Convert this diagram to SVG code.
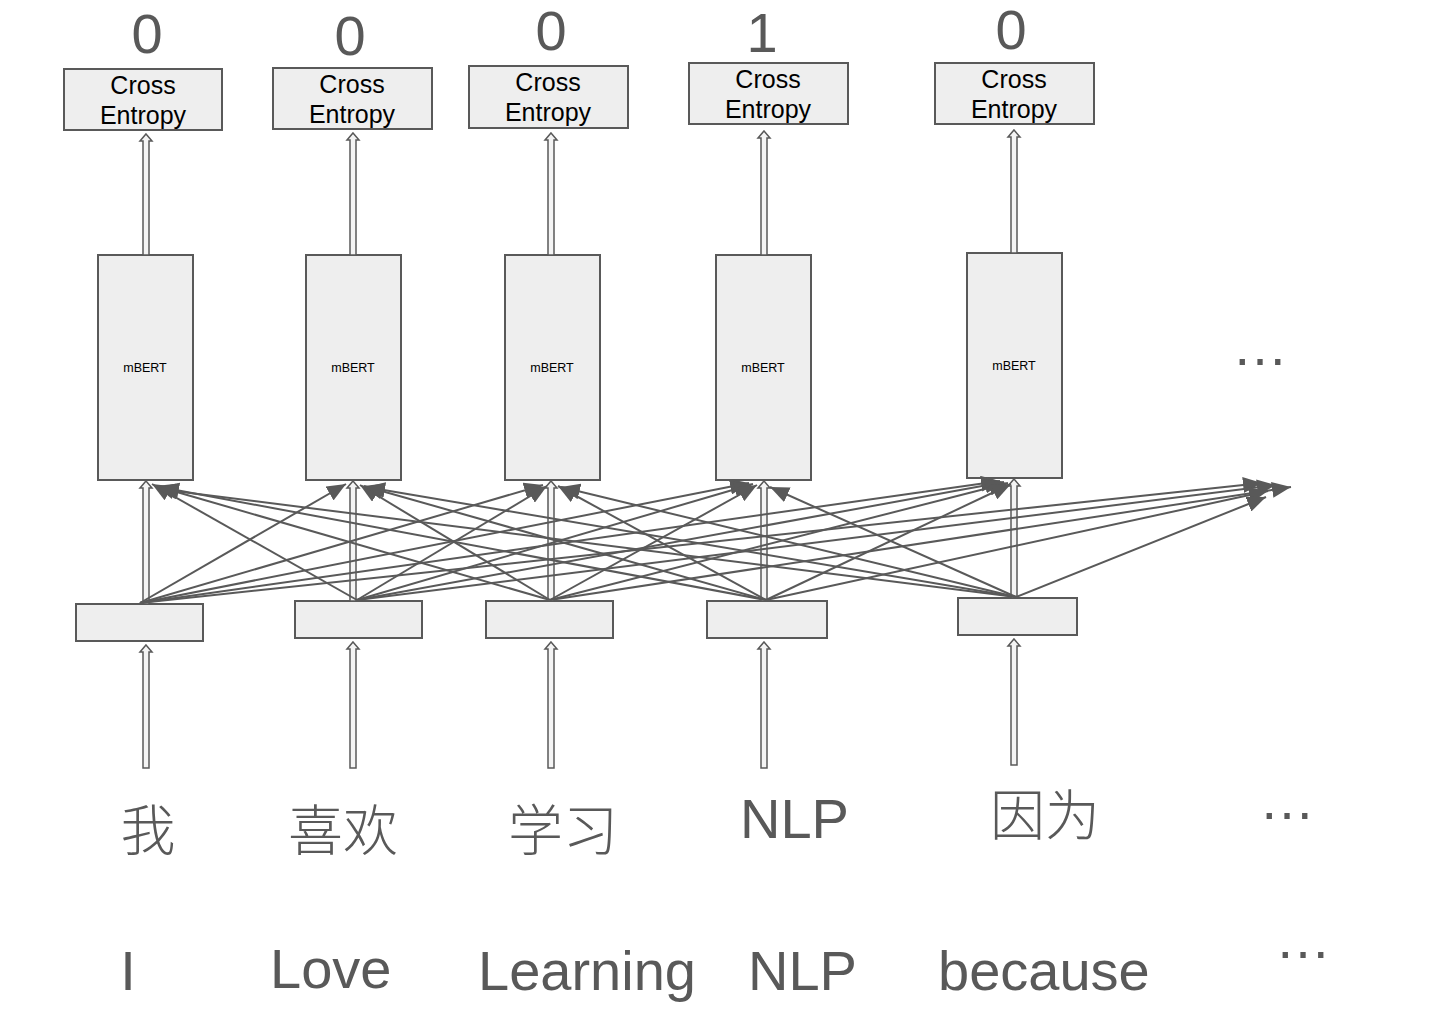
<svg xmlns="http://www.w3.org/2000/svg" width="1430" height="1022" viewBox="0 0 1430 1022">
<style>
.box{fill:#eeeeee;stroke:#595959;stroke-width:2}
.ce{font-family:"Liberation Sans",Arial,sans-serif;font-size:25px;fill:#000;text-anchor:middle}
.mb{font-family:"Liberation Sans",Arial,sans-serif;font-size:12.5px;fill:#000;text-anchor:middle}
.num{font-family:"Liberation Sans",Arial,sans-serif;font-size:56px;fill:#595959;text-anchor:middle}
.word{font-family:"Liberation Sans",Arial,sans-serif;font-size:56px;fill:#595959}
.zh{font-family:"Noto Sans CJK SC",sans-serif;font-size:55px;fill:#595959;text-anchor:middle;font-weight:300}
.dots{font-family:"Liberation Sans",Arial,sans-serif;font-size:56px;fill:#595959;text-anchor:middle}
.hol{fill:#f4f4f4;stroke:#595959;stroke-width:1.5;stroke-linejoin:miter}
.ln{stroke:#595959;stroke-width:2;fill:none;marker-end:url(#ah)}
</style>
<defs>
<marker id="ah" markerUnits="userSpaceOnUse" markerWidth="21" markerHeight="16" refX="19" refY="8" orient="auto">
<path d="M0,0 L19,8 L0,16 z" fill="#595959"/>
</marker>
</defs>
<rect width="1430" height="1022" fill="#ffffff"/>

<g id="labels">
<text class="num" x="147" y="53">0</text>
<text class="num" x="350" y="55">0</text>
<text class="num" x="551" y="50" font-size="55">0</text>
<text class="num" x="762" y="52">1</text>
<text class="num" x="1011" y="49" font-size="54">0</text>
</g>

<g id="ce1"><rect class="box" x="64" y="69" width="158" height="61"/><text class="ce" x="143" y="94">Cross</text><text class="ce" x="143" y="124">Entropy</text></g>
<g id="ce2"><rect class="box" x="273" y="68" width="159" height="61"/><text class="ce" x="352" y="93">Cross</text><text class="ce" x="352" y="123">Entropy</text></g>
<g id="ce3"><rect class="box" x="469" y="66" width="159" height="62"/><text class="ce" x="548" y="91">Cross</text><text class="ce" x="548" y="121">Entropy</text></g>
<g id="ce4"><rect class="box" x="689" y="63" width="159" height="61"/><text class="ce" x="768" y="88">Cross</text><text class="ce" x="768" y="118">Entropy</text></g>
<g id="ce5"><rect class="box" x="935" y="63" width="159" height="61"/><text class="ce" x="1014" y="88">Cross</text><text class="ce" x="1014" y="118">Entropy</text></g>

<g id="mbert1"><rect class="box" x="98" y="255" width="95" height="225"/><text class="mb" x="145" y="372">mBERT</text></g>
<g id="mbert2"><rect class="box" x="306" y="255" width="95" height="225"/><text class="mb" x="353" y="372">mBERT</text></g>
<g id="mbert3"><rect class="box" x="505" y="255" width="95" height="225"/><text class="mb" x="552" y="372">mBERT</text></g>
<g id="mbert4"><rect class="box" x="716" y="255" width="95" height="225"/><text class="mb" x="763" y="372">mBERT</text></g>
<g id="mbert5"><rect class="box" x="967" y="253" width="95" height="225"/><text class="mb" x="1014" y="370">mBERT</text></g>
<g id="mbert-more"><text class="dots" x="1260" y="365">…</text></g>

<g id="emb1"><rect class="box" x="76" y="604" width="127" height="37"/></g>
<g id="emb2"><rect class="box" x="295" y="601" width="127" height="37"/></g>
<g id="emb3"><rect class="box" x="486" y="601" width="127" height="37"/></g>
<g id="emb4"><rect class="box" x="707" y="601" width="120" height="37"/></g>
<g id="emb5"><rect class="box" x="958" y="598" width="119" height="37"/></g>

<g id="connectors">
<!-- mBERT to Cross Entropy -->
<polygon class="hol" points="146,134 152,141 149,141 149,255 143,255 143,141 140,141"/>
<polygon class="hol" points="353,133 359,140 356,140 356,255 350,255 350,140 347,140"/>
<polygon class="hol" points="551,133 557,140 554,140 554,255 548,255 548,140 545,140"/>
<polygon class="hol" points="764,131 770,138 767,138 767,255 761,255 761,138 758,138"/>
<polygon class="hol" points="1014,130 1020,137 1017,137 1017,253 1011,253 1011,137 1008,137"/>
<!-- embedding to mBERT -->
<polygon class="hol" points="146,481 152,488 149,488 149,604 143,604 143,488 140,488"/>
<polygon class="hol" points="353,481 359,488 356,488 356,601 350,601 350,488 347,488"/>
<polygon class="hol" points="551,481 557,488 554,488 554,601 548,601 548,488 545,488"/>
<polygon class="hol" points="764,481 770,488 767,488 767,601 761,601 761,488 758,488"/>
<polygon class="hol" points="1014,479 1020,486 1017,486 1017,598 1011,598 1011,486 1008,486"/>
<!-- words to embedding -->
<polygon class="hol" points="146,645 152,652 149,652 149,768 143,768 143,652 140,652"/>
<polygon class="hol" points="353,642 359,649 356,649 356,768 350,768 350,649 347,649"/>
<polygon class="hol" points="551,642 557,649 554,649 554,768 548,768 548,649 545,649"/>
<polygon class="hol" points="764,642 770,649 767,649 767,768 761,768 761,649 758,649"/>
<polygon class="hol" points="1014,639 1020,646 1017,646 1017,765 1011,765 1011,646 1008,646"/>
<!-- cross attention lines from emb1 -->
<line class="ln" x1="140" y1="603" x2="346" y2="484"/>
<line class="ln" x1="140" y1="603" x2="543" y2="485"/>
<line class="ln" x1="140" y1="603" x2="749" y2="483"/>
<line class="ln" x1="140" y1="603" x2="1000" y2="481"/>
<line class="ln" x1="140" y1="603" x2="1262" y2="483"/>
<!-- from emb2 -->
<line class="ln" x1="357" y1="600" x2="152" y2="484"/>
<line class="ln" x1="357" y1="600" x2="547" y2="486"/>
<line class="ln" x1="357" y1="600" x2="753" y2="484"/>
<line class="ln" x1="357" y1="600" x2="1004" y2="482"/>
<line class="ln" x1="357" y1="600" x2="1276" y2="485"/>
<!-- from emb3 -->
<line class="ln" x1="550" y1="600" x2="156" y2="486"/>
<line class="ln" x1="550" y1="600" x2="360" y2="485"/>
<line class="ln" x1="550" y1="600" x2="757" y2="485"/>
<line class="ln" x1="550" y1="600" x2="1008" y2="483"/>
<line class="ln" x1="550" y1="600" x2="1291" y2="487"/>
<!-- from emb4 -->
<line class="ln" x1="766" y1="600" x2="160" y2="487"/>
<line class="ln" x1="766" y1="600" x2="364" y2="486"/>
<line class="ln" x1="766" y1="600" x2="558" y2="486"/>
<line class="ln" x1="766" y1="600" x2="1011" y2="484"/>
<line class="ln" x1="766" y1="600" x2="1268" y2="491"/>
<!-- from emb5 -->
<line class="ln" x1="1016" y1="597" x2="158" y2="489"/>
<line class="ln" x1="1016" y1="597" x2="366" y2="487"/>
<line class="ln" x1="1016" y1="597" x2="561" y2="487"/>
<line class="ln" x1="1016" y1="597" x2="770" y2="487"/>
<line class="ln" x1="1016" y1="597" x2="1266" y2="497"/>
</g>

<g id="chinese">
<text class="zh" x="148" y="850">我</text>
<text class="zh" x="343" y="850">喜欢</text>
<text class="zh" x="563" y="850">学习</text>
<text class="word" x="740" y="838">NLP</text>
<text class="zh" x="1045" y="835">因为</text>
<text class="dots" x="1287" y="819">…</text>
</g>

<g id="english">
<text class="word" x="128" y="990" text-anchor="middle">I</text>
<text class="word" x="270" y="988">Love</text>
<text class="word" x="478" y="990">Learning</text>
<text class="word" x="748" y="990">NLP</text>
<text class="word" x="938" y="990">because</text>
<text class="dots" x="1303" y="958">…</text>
</g>
</svg>
